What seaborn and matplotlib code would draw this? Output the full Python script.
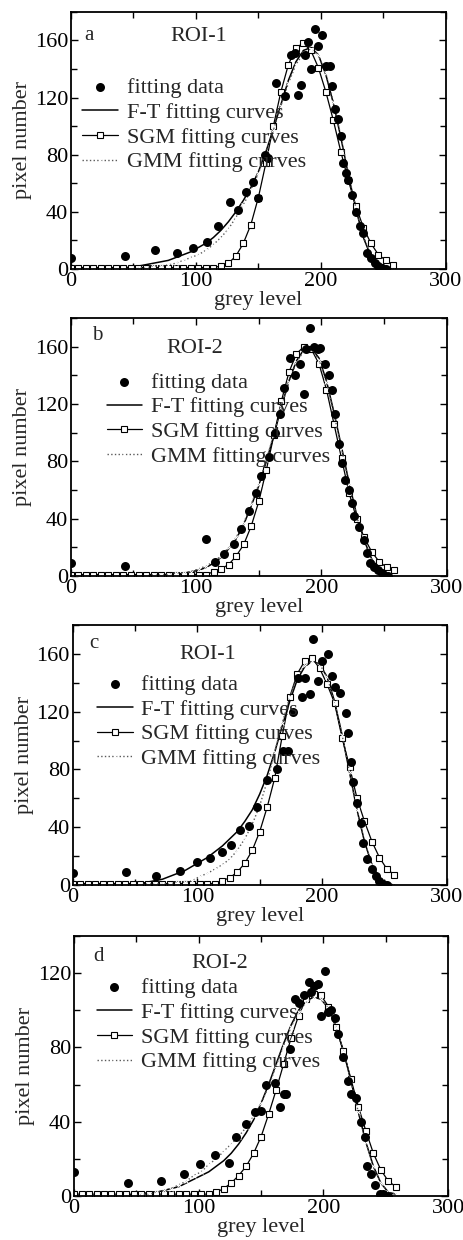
import matplotlib
matplotlib.use("Agg")
import matplotlib.pyplot as plt
import seaborn as sns
from matplotlib.ticker import MultipleLocator

# grey levels where the fitted curves are sampled
grey = [0, 6, 12, 18, 24, 30, 36, 42, 48, 54, 60,
        66, 72, 78, 84, 90, 96, 102, 108, 114, 120, 126,
        132, 138, 144, 150, 156, 162, 168, 174, 180, 186, 192,
        198, 204, 210, 216, 222, 228, 234, 240, 246, 252, 258]

# panel a - ROI-1
a_pts_x = [0, 43, 67, 85, 98, 109, 118, 127, 134, 140, 146, 150, 155, 158, 164,
           171, 176, 179, 182, 184, 187, 190, 192, 195, 198, 201, 204, 207, 209, 211,
           214, 216, 218, 220, 222, 225, 228, 231, 234, 237, 240, 243, 246, 249, 252]
a_pts_y = [8, 9, 13, 11, 15, 19, 30, 47, 41, 54, 61, 50, 80, 78, 130,
           121, 150, 151, 122, 129, 150, 159, 140, 168, 156, 164, 142, 142, 128, 112,
           105, 93, 74, 67, 62, 52, 40, 30, 25, 11, 8, 4, 2, 1, 0]
a_ft = [0, 0, 0, 0, 0, 0, 1, 1, 1, 2, 3,
        4, 5, 6, 8, 10, 12, 15, 18, 22, 27, 33,
        40, 48, 57, 68, 82, 98, 115, 132, 145, 153, 155,
        150, 136, 116, 92, 66, 42, 22, 9, 3, 1, 0]
a_sgm = [1, 1, 1, 1, 1, 1, 1, 1, 1, 1, 1,
         1, 1, 1, 1, 1, 1, 1, 1, 1, 2, 4,
         9, 18, 31, 50, 74, 100, 124, 143, 155, 158, 153,
         141, 124, 104, 82, 62, 44, 29, 18, 10, 6, 3]
a_gmm = [0, 0, 0, 0, 0, 0, 0, 0, 0, 1, 1,
         2, 2, 3, 4, 6, 8, 10, 13, 17, 22, 28,
         36, 45, 55, 67, 81, 97, 114, 130, 143, 151, 154,
         150, 137, 117, 93, 67, 43, 23, 10, 4, 1, 0]

# panel b - ROI-2
b_pts_x = [0, 43, 108, 115, 122, 130, 136, 142, 148, 152, 158, 163, 167, 170, 175,
           179, 183, 186, 188, 191, 194, 197, 199, 203, 206, 208, 211, 214, 216, 219,
           222, 224, 226, 230, 234, 236, 239, 242, 245, 248, 250, 253]
b_pts_y = [9, 7, 26, 10, 15, 22, 33, 45, 58, 70, 83, 100, 113, 131, 152,
           140, 148, 127, 158, 173, 160, 158, 159, 148, 140, 130, 113, 92, 79, 67,
           60, 51, 42, 34, 25, 16, 9, 6, 4, 2, 1, 0]
b_ft = [0, 0, 0, 0, 0, 0, 0, 0, 0, 0, 0,
        0, 1, 1, 1, 2, 3, 4, 6, 9, 13, 19,
        26, 36, 49, 63, 80, 98, 118, 136, 150, 158, 159,
        152, 136, 114, 90, 65, 43, 25, 12, 5, 1, 0]
b_sgm = [1, 1, 1, 1, 1, 1, 1, 1, 1, 1, 1,
         1, 1, 1, 1, 1, 1, 1, 1, 3, 5, 8,
         14, 22, 35, 52, 74, 98, 122, 142, 155, 160, 158,
         148, 130, 106, 82, 58, 40, 27, 17, 10, 6, 4]
b_gmm = [0, 0, 0, 0, 0, 0, 0, 0, 0, 0, 0,
         1, 1, 1, 2, 2, 3, 5, 7, 10, 14, 20,
         27, 37, 50, 64, 81, 99, 118, 135, 149, 157, 158,
         151, 135, 113, 89, 64, 42, 24, 11, 4, 1, 0]

# panel c - ROI-1
c_pts_x = [0, 43, 67, 86, 100, 110, 120, 127, 134, 141, 148, 156, 164, 169, 173,
           177, 181, 184, 186, 190, 193, 197, 200, 205, 208, 210, 214, 219, 221, 223,
           225, 228, 231, 233, 236, 240, 243, 246, 249, 252]
c_pts_y = [8, 9, 6, 10, 16, 19, 23, 28, 38, 41, 54, 73, 80, 93, 93,
           120, 143, 130, 143, 132, 170, 141, 155, 160, 145, 137, 133, 119, 105, 85,
           71, 57, 43, 29, 18, 11, 6, 3, 1, 0]
c_ft = [0, 0, 0, 0, 0, 0, 0, 0, 1, 1, 2,
        3, 4, 6, 8, 10, 13, 16, 19, 23, 27, 32,
        37, 44, 52, 63, 76, 92, 110, 127, 142, 151, 155,
        153, 144, 127, 104, 78, 52, 30, 14, 5, 1, 0]
c_sgm = [1, 1, 1, 1, 1, 1, 1, 1, 1, 1, 1,
         1, 1, 1, 1, 1, 1, 1, 1, 1, 3, 5,
         9, 15, 24, 37, 54, 74, 103, 130, 146, 155, 157,
         150, 139, 126, 102, 82, 60, 44, 30, 19, 11, 7]
c_gmm = [0, 0, 0, 0, 0, 0, 0, 0, 0, 0, 1,
         1, 1, 1, 2, 2, 3, 6, 8, 11, 14, 18,
         24, 32, 42, 55, 72, 92, 112, 130, 144, 152, 155,
         153, 144, 127, 104, 78, 52, 30, 14, 5, 1, 0]

# panel d - ROI-2
d_pts_x = [0, 43, 70, 88, 101, 113, 124, 130, 138, 145, 150, 154, 161, 165, 168,
           170, 173, 177, 180, 184, 188, 190, 192, 196, 198, 201, 204, 206, 209, 212,
           216, 220, 222, 226, 230, 233, 235, 238, 241, 245, 248, 252]
d_pts_y = [13, 7, 8, 12, 17, 22, 18, 32, 39, 45, 46, 60, 61, 48, 55,
           55, 79, 106, 104, 108, 115, 110, 113, 114, 97, 121, 99, 100, 96, 87,
           75, 62, 55, 53, 40, 32, 16, 12, 6, 1, 1, 0]
d_ft = [0, 0, 0, 0, 0, 0, 0, 0, 1, 1, 2,
        2, 3, 4, 5, 7, 9, 11, 13, 16, 19, 23,
        28, 34, 41, 50, 60, 71, 82, 92, 100, 105, 107,
        106, 101, 91, 78, 62, 45, 29, 16, 7, 2, 1]
d_sgm = [1, 1, 1, 1, 1, 1, 1, 1, 1, 1, 1,
         1, 1, 1, 1, 1, 1, 1, 1, 2, 4, 7,
         11, 16, 23, 32, 44, 57, 71, 85, 97, 106, 109,
         108, 102, 91, 78, 63, 48, 35, 23, 14, 8, 5]
d_gmm = [0, 0, 0, 0, 0, 0, 0, 0, 0, 1, 1,
         2, 3, 4, 6, 8, 11, 13, 17, 20, 24, 28,
         32, 37, 43, 50, 59, 70, 81, 91, 99, 104, 107,
         106, 101, 91, 78, 62, 45, 29, 16, 7, 2, 1]

sns.set_style("ticks")
plt.rcParams['font.family'] = ['Liberation Serif', 'DejaVu Serif']

fig = plt.figure(figsize=(4.63, 12.4), dpi=100)

panels = [
    # rect, letter, roi, pts, curves, ymax, letter pos, roi pos, legend pos
    ([0.153, 0.7831, 0.810, 0.2073], "a", "ROI-1", a_pts_x, a_pts_y, a_ft, a_sgm, a_gmm, 180,
     (0.035, 0.91), (0.34, 0.905), (0.03, 0.745)),
    ([0.153, 0.5355, 0.812, 0.2081], "b", "ROI-2", b_pts_x, b_pts_y, b_ft, b_sgm, b_gmm, 180,
     (0.055, 0.93), (0.33, 0.88), (0.095, 0.79)),
    ([0.157, 0.2863, 0.808, 0.2097], "c", "ROI-1", c_pts_x, c_pts_y, c_ft, c_sgm, c_gmm, 180,
     (0.045, 0.93), (0.36, 0.885), (0.065, 0.81)),
    ([0.160, 0.0355, 0.808, 0.2097], "d", "ROI-2", d_pts_x, d_pts_y, d_ft, d_sgm, d_gmm, 140,
     (0.05, 0.92), (0.39, 0.895), (0.06, 0.84)),
]

for rect, letter, roi, px, py, ft, sgm, gmm, ymax, lpos, rpos, legpos in panels:
    ax = fig.add_axes(rect)
    sns.scatterplot(x=px, y=py, ax=ax, color="black", s=42, linewidth=0,
                    label="fitting data", zorder=5)
    sns.lineplot(x=grey, y=ft, ax=ax, color="black", linewidth=1.1,
                 label="F-T fitting curves")
    sns.lineplot(x=grey, y=sgm, ax=ax, color="black", linewidth=0.9, marker="s",
                 markersize=5, markerfacecolor="white", markeredgecolor="black",
                 markeredgewidth=0.8, label="SGM fitting curves")
    sns.lineplot(x=grey, y=gmm, ax=ax, color="0.35", linewidth=1.0, linestyle=":",
                 marker="x", markersize=3, markeredgewidth=0.7,
                 label="GMM fitting curves")

    ax.set_xlim(0, 300)
    ax.set_ylim(0, ymax)
    ax.xaxis.set_major_locator(MultipleLocator(100))
    ax.xaxis.set_minor_locator(MultipleLocator(50))
    ax.yaxis.set_major_locator(MultipleLocator(40))
    ax.yaxis.set_minor_locator(MultipleLocator(20))
    ax.tick_params(which="both", direction="in", top=True, right=True,
                   labelsize=16, width=1.0, colors="black")
    ax.tick_params(which="major", length=5, pad=2)
    ax.tick_params(which="minor", length=4)
    for sp in ax.spines.values():
        sp.set_linewidth(1.3)
        sp.set_color("black")

    ax.set_xlabel("grey level", fontsize=16, labelpad=0)
    ax.set_ylabel("pixel number", fontsize=16, labelpad=2)

    ax.text(lpos[0], lpos[1], letter, transform=ax.transAxes, fontsize=15,
            ha="left", va="center")
    ax.text(rpos[0], rpos[1], roi, transform=ax.transAxes, fontsize=16,
            ha="center", va="center")

    ax.legend(loc="upper left", bbox_to_anchor=legpos, frameon=False,
              fontsize=16, handlelength=1.6, handletextpad=0.4,
              labelspacing=0.19, borderpad=0, borderaxespad=0, scatterpoints=1)

fig.savefig("out.png", dpi=100)
